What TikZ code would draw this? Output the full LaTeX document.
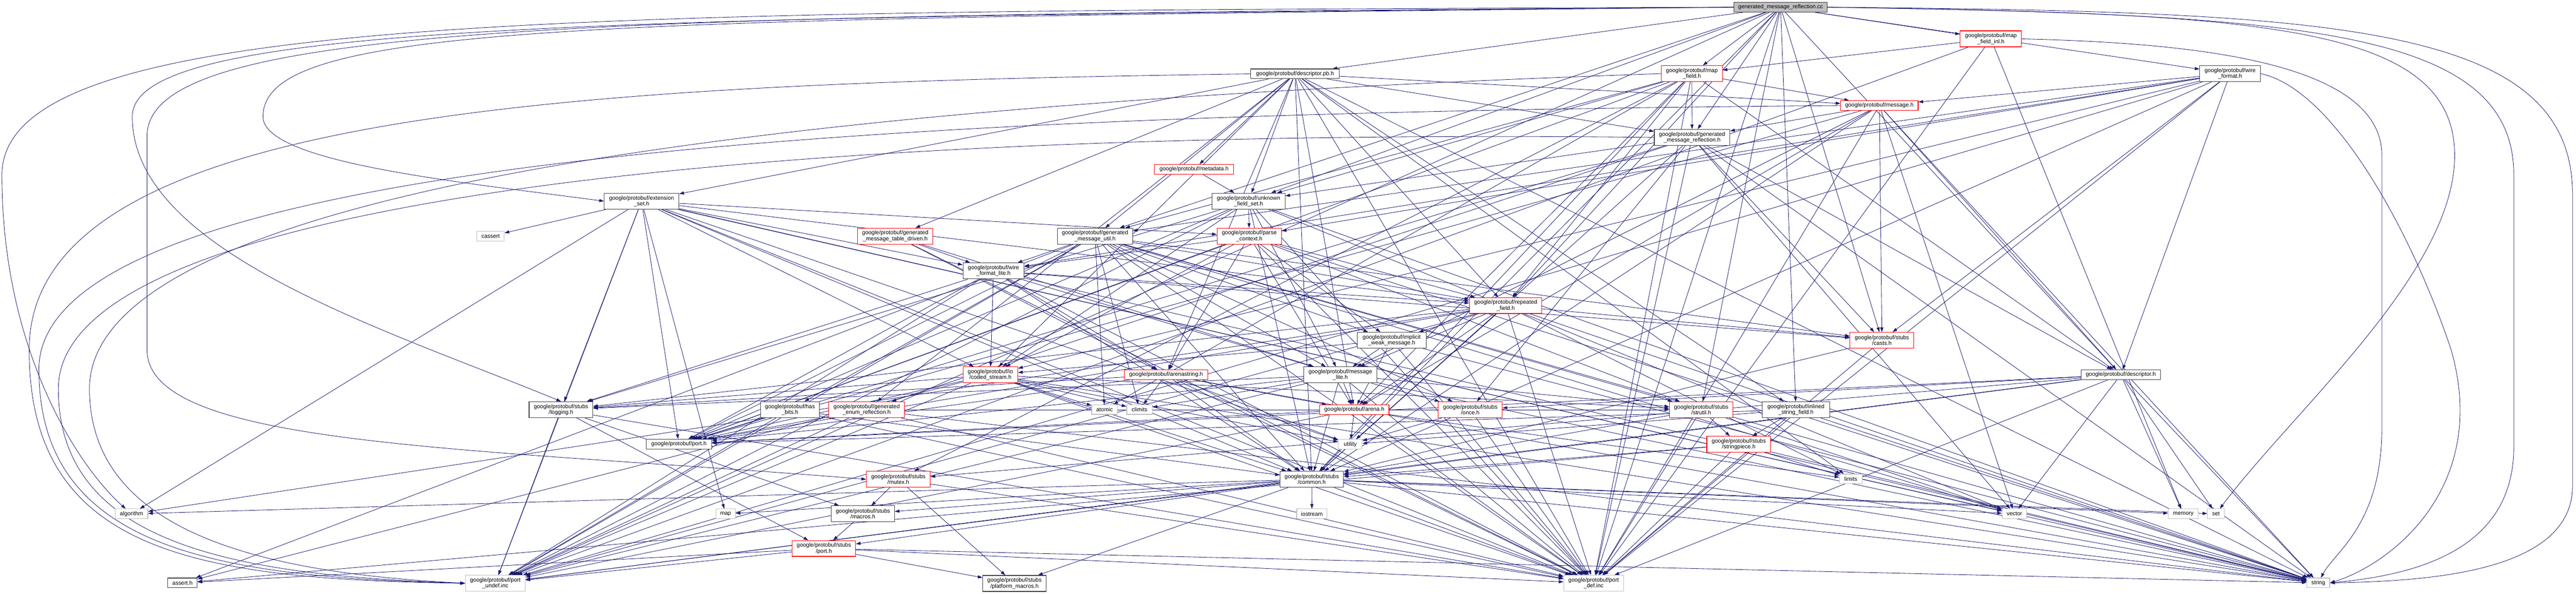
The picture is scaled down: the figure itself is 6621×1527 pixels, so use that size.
\documentclass[tikz,border=0pt]{standalone}
\usepackage{fontspec}
\setmainfont{Liberation Sans}
\usetikzlibrary{arrows.meta,backgrounds}
\definecolor{edgeblue}{HTML}{191970}
\definecolor{leafgray}{HTML}{BFBFBF}
\newcommand\mknode[7]{\node[#6, minimum width=#4pt, minimum height=#5pt] (#1) at (#2,#3) {#7};}
\tikzset{
  nbase/.style={rectangle, fill=white, line width=1.5pt, inner sep=1pt, align=center,
     font=\fontsize{14.5}{15}\selectfont},
  blk/.style={nbase, draw=black!75},
  red/.style={nbase, draw=red},
  leaf/.style={nbase, draw=leafgray},
  rootbox/.style={nbase, draw=black!75, fill=leafgray},
  edge/.style={draw=edgeblue, line width=1.1pt, -{Triangle[length=12pt,width=8pt]}}
}
\begin{document}
\begin{tikzpicture}[x=1pt,y=-1pt]
\useasboundingbox (0,0) rectangle (6621,1527);
\mknode{root}{4576.5}{18.5}{239}{25}{rootbox}{generated\_message\_reflection.cc}
\mknode{dpb}{3328.5}{190}{227}{25}{blk}{google/protobuf/descriptor.pb.h}
\mknode{mf}{4348.5}{189.5}{157}{41}{red}{google/protobuf/map\\\_field.h}
\mknode{mfi}{5117}{100}{158}{41}{red}{google/protobuf/map\\\_field\_inl.h}
\mknode{msg}{4830.5}{271.5}{199}{25}{red}{google/protobuf/message.h}
\mknode{gmr}{4349}{353.5}{194}{41}{blk}{google/protobuf/generated\\\_message\_reflection.h}
\mknode{wf}{5732}{189.5}{156}{41}{blk}{google/protobuf/wire\\\_format.h}
\mknode{meta}{3069}{435.5}{204}{25}{red}{google/protobuf/metadata.h}
\mknode{es}{1649}{517.5}{192}{41}{blk}{google/protobuf/extension\\\_set.h}
\mknode{ufs}{3209}{517.5}{188}{41}{blk}{google/protobuf/unknown\\\_field\_set.h}
\mknode{gmtd}{2301}{607.5}{194}{41}{red}{google/protobuf/generated\\\_message\_table\_driven.h}
\mknode{gmu}{2814.5}{607.5}{193}{41}{blk}{google/protobuf/generated\\\_message\_util.h}
\mknode{pc}{3211}{607.5}{166}{41}{red}{google/protobuf/parse\\\_context.h}
\mknode{wfl}{2553.5}{697}{157}{41}{blk}{google/protobuf/wire\\\_format\_lite.h}
\mknode{cassert}{1261}{607.5}{70}{25}{leaf}{cassert}
\mknode{rf}{3870}{786}{186}{41}{red}{google/protobuf/repeated\\\_field.h}
\mknode{iwm}{3577}{875.5}{178}{41}{blk}{google/protobuf/implicit\\\_weak\_message.h}
\mknode{casts}{4837}{875.5}{164}{41}{red}{google/protobuf/stubs\\/casts.h}
\mknode{cs}{2545.5}{964.5}{141}{41}{red}{google/protobuf/io\\/coded\_stream.h}
\mknode{as}{2997}{964}{214}{25}{red}{google/protobuf/arenastring.h}
\mknode{ml}{3445}{964.5}{188}{41}{blk}{google/protobuf/message\\\_lite.h}
\mknode{desc}{5451}{964}{204}{25}{blk}{google/protobuf/descriptor.h}
\mknode{log}{1442}{1054}{164}{41}{blk}{google/protobuf/stubs\\/logging.h}
\mknode{hb}{2030.5}{1054}{151}{41}{blk}{google/protobuf/has\\\_bits.h}
\mknode{ger}{2227.5}{1054}{195}{41}{red}{google/protobuf/generated\\\_enum\_reflection.h}
\mknode{atomic}{2839}{1053.5}{66}{25}{leaf}{atomic}
\mknode{climits}{2929}{1053.5}{66}{25}{leaf}{climits}
\mknode{arena}{3481}{1054}{178}{25}{red}{google/protobuf/arena.h}
\mknode{once}{3779}{1054}{164}{41}{red}{google/protobuf/stubs\\/once.h}
\mknode{strutil}{4372.5}{1054}{163}{41}{red}{google/protobuf/stubs\\/strutil.h}
\mknode{isf}{4616}{1054}{174}{41}{blk}{google/protobuf/inlined\\\_string\_field.h}
\mknode{port}{1745}{1142.5}{168}{25}{blk}{google/protobuf/port.h}
\mknode{utility}{3470.5}{1143}{61}{25}{leaf}{utility}
\mknode{sp}{4469}{1143}{164}{41}{red}{google/protobuf/stubs\\/stringpiece.h}
\mknode{mutex}{2309}{1233}{164}{41}{red}{google/protobuf/stubs\\/mutex.h}
\mknode{common}{3371.5}{1233}{163}{41}{blk}{google/protobuf/stubs\\/common.h}
\mknode{limits}{4757}{1232}{58}{25}{leaf}{limits}
\mknode{algorithm}{338}{1322}{84}{25}{leaf}{algorithm}
\mknode{map}{1865}{1322}{50}{25}{leaf}{map}
\mknode{macros}{2218}{1322}{162}{41}{blk}{google/protobuf/stubs\\/macros.h}
\mknode{iostream}{3372}{1322}{78}{25}{leaf}{iostream}
\mknode{vector}{5177.5}{1322}{63}{25}{leaf}{vector}
\mknode{memory}{5611.5}{1322}{77}{25}{leaf}{memory}
\mknode{set}{5695.5}{1322}{43}{25}{leaf}{set}
\mknode{sport}{2117.5}{1411}{163}{41}{red}{google/protobuf/stubs\\/port.h}
\mknode{asserth}{469}{1499.5}{76}{25}{blk}{assert.h}
\mknode{pundef}{1273}{1500.5}{154}{41}{leaf}{google/protobuf/port\\\_undef.inc}
\mknode{pmac}{2607.5}{1501}{163}{41}{blk}{google/protobuf/stubs\\/platform\_macros.h}
\mknode{pdef}{4096}{1500.5}{154}{41}{leaf}{google/protobuf/port\\\_def.inc}
\mknode{string}{5958.5}{1499.5}{59}{25}{leaf}{string}
\begin{pgfonlayer}{background}
\foreach \a/\b in {
 root/common, root/dpb, root/desc, root/gmu,
 root/isf, root/mf, root/mfi, root/rf, root/ufs, root/wf, root/strutil,
 root/pdef, root/pundef, root/gmr, root/casts,
 dpb/meta, dpb/es, dpb/gmtd, dpb/gmu, dpb/ufs, dpb/gmr, dpb/msg, dpb/rf, dpb/cs, dpb/arena,
 dpb/as, dpb/isf, dpb/ger, dpb/limits, dpb/string, dpb/pdef, dpb/common,
 mf/msg, mf/gmr, mf/gmu, mf/desc, mf/arena, mf/rf, mf/ufs, mf/mutex, mf/port, mf/common,
 mf/atomic, mf/pdef,
 mfi/mf, mfi/memory, mfi/pdef, mfi/pundef,
 msg/gmr, msg/desc, msg/ml, msg/arena, msg/port, msg/common, msg/casts, msg/string,
 msg/vector, msg/pdef,
 gmr/ger, gmr/once, gmr/ufs, gmr/desc, gmr/casts, gmr/common, gmr/port, gmr/string,
 gmr/vector, gmr/pdef,
 wf/msg, wf/cs, wf/desc, wf/gmu, wf/pc, wf/wfl, wf/casts, wf/common, wf/pdef, wf/pundef,
 meta/ufs,
 es/algorithm, es/cassert, es/map, es/string, es/utility, es/vector, es/common, es/log,
 es/pc, es/cs, es/port, es/rf, es/wfl, es/pdef, es/pundef,
 ufs/string, ufs/vector, ufs/common, ufs/log, ufs/pc, ufs/cs, ufs/ml, ufs/port, ufs/pdef, ufs/pundef,
 gmtd/wfl, gmtd/ml, gmtd/as, gmtd/pdef,
 gmu/asserth, gmu/atomic, gmu/climits, gmu/string, gmu/vector, gmu/common, gmu/hb, gmu/iwm,
 gmu/ml, gmu/once, gmu/port, gmu/rf, gmu/wfl, gmu/strutil, gmu/casts, gmu/pdef, gmu/pundef,
 pc/string, pc/cs, pc/arena, pc/as, pc/iwm, pc/port, pc/rf, pc/wfl, pc/strutil, pc/pdef,
 wfl/string, wfl/common, wfl/log, wfl/cs, wfl/as, wfl/ml, wfl/port, wfl/rf, wfl/casts, wfl/pdef, wfl/pundef,
 rf/utility, rf/algorithm, rf/limits, rf/string, rf/log, rf/common, rf/arena, rf/ml, rf/port,
 rf/casts, rf/iwm, rf/pdef, rf/pundef,
 iwm/string, iwm/cs, iwm/arena, iwm/ml, iwm/pdef,
 casts/common, casts/pdef,
 cs/asserth, cs/atomic, cs/climits, cs/string, cs/utility, cs/log, cs/common, cs/port,
 cs/strutil, cs/pdef, cs/pundef,
 as/string, as/utility, as/log, as/common, as/arena, as/port, as/climits, as/pdef,
 ml/climits, ml/string, ml/common, ml/log, ml/arena, ml/once, ml/port, ml/strutil, ml/pdef, ml/pundef,
 desc/memory, desc/set, desc/string, desc/vector, desc/common, desc/mutex, desc/once,
 desc/port, desc/pdef, desc/pundef,
 log/macros, log/sport, log/pdef, log/pundef,
 hb/common, hb/port, hb/pdef, hb/pundef,
 ger/string, ger/port, ger/strutil, ger/pdef, ger/pundef,
 arena/limits, arena/utility, arena/port, arena/pdef, arena/pundef,
 once/utility, once/pdef,
 strutil/vector, strutil/common, strutil/sp, strutil/pdef,
 isf/string, isf/utility, isf/port, isf/sp, isf/pdef,
 sp/asserth, sp/limits, sp/string, sp/common, sp/pdef,
 mutex/macros, mutex/pmac, mutex/pdef,
 common/algorithm, common/iostream, common/map, common/memory, common/set, common/string,
 common/vector, common/macros, common/pmac, common/sport, common/pdef, common/pundef,
 macros/sport,
 sport/asserth, sport/string, sport/pmac, sport/pdef, sport/pundef}
 {\draw[edge] (\a) -- (\b);}
% long edges routed around the left side, as in the reference
\draw[edge] (root.west) .. controls (1500,30) and (5,25) .. (5,450) .. controls (5,900) and (200,1200) .. (algorithm);
\draw[edge] (root.west) .. controls (1500,50) and (676,60) .. (676,300) .. controls (676,420) and (1200,470) .. (es.west);
\draw[edge] (root.west) .. controls (1500,40) and (378,60) .. (378,350) -- (378,900) .. controls (378,1150) and (1200,1150) .. (mutex.west);
\draw[edge] (root.west) .. controls (1500,45) and (340,60) .. (340,300) .. controls (340,650) and (1000,850) .. (log.north);
\draw[edge] (dpb.west) .. controls (1500,215) and (75,280) .. (75,900) .. controls (75,1420) and (500,1490) .. (pundef.west);
\draw[edge] (gmr.west) .. controls (2200,330) and (150,480) .. (150,1000) .. controls (150,1400) and (600,1480) .. (pundef.west);
\draw[edge] (msg.west) .. controls (2500,290) and (100,380) .. (100,950) .. controls (100,1410) and (550,1485) .. (pundef.west);
\draw[edge] (mf.west) .. controls (2500,250) and (230,420) .. (230,1000) .. controls (230,1380) and (700,1475) .. (pundef.west);
% long edges routed around the right side
\draw[edge] (root.east) .. controls (6000,30) and (6612,60) .. (6612,500) -- (6612,1250) .. controls (6612,1470) and (6250,1495) .. (string.east);
\draw[edge] (root.east) .. controls (5800,35) and (6309,60) .. (6309,400) .. controls (6309,700) and (5900,1050) .. (set);
\draw[edge] (root.east) .. controls (5900,38) and (6461,70) .. (6461,450) -- (6461,1150) .. controls (6461,1420) and (6200,1480) .. (string.east);
\draw[edge] (mfi.east) .. controls (5600,110) and (6122,150) .. (6122,400) -- (6122,1100) .. controls (6122,1350) and (6000,1420) .. (string);
\draw[edge] (wf.east) .. controls (6000,230) and (6200,600) .. (6300,900) .. controls (6400,1250) and (6150,1450) .. (string.east);
\end{pgfonlayer}
\end{tikzpicture}
\end{document}
